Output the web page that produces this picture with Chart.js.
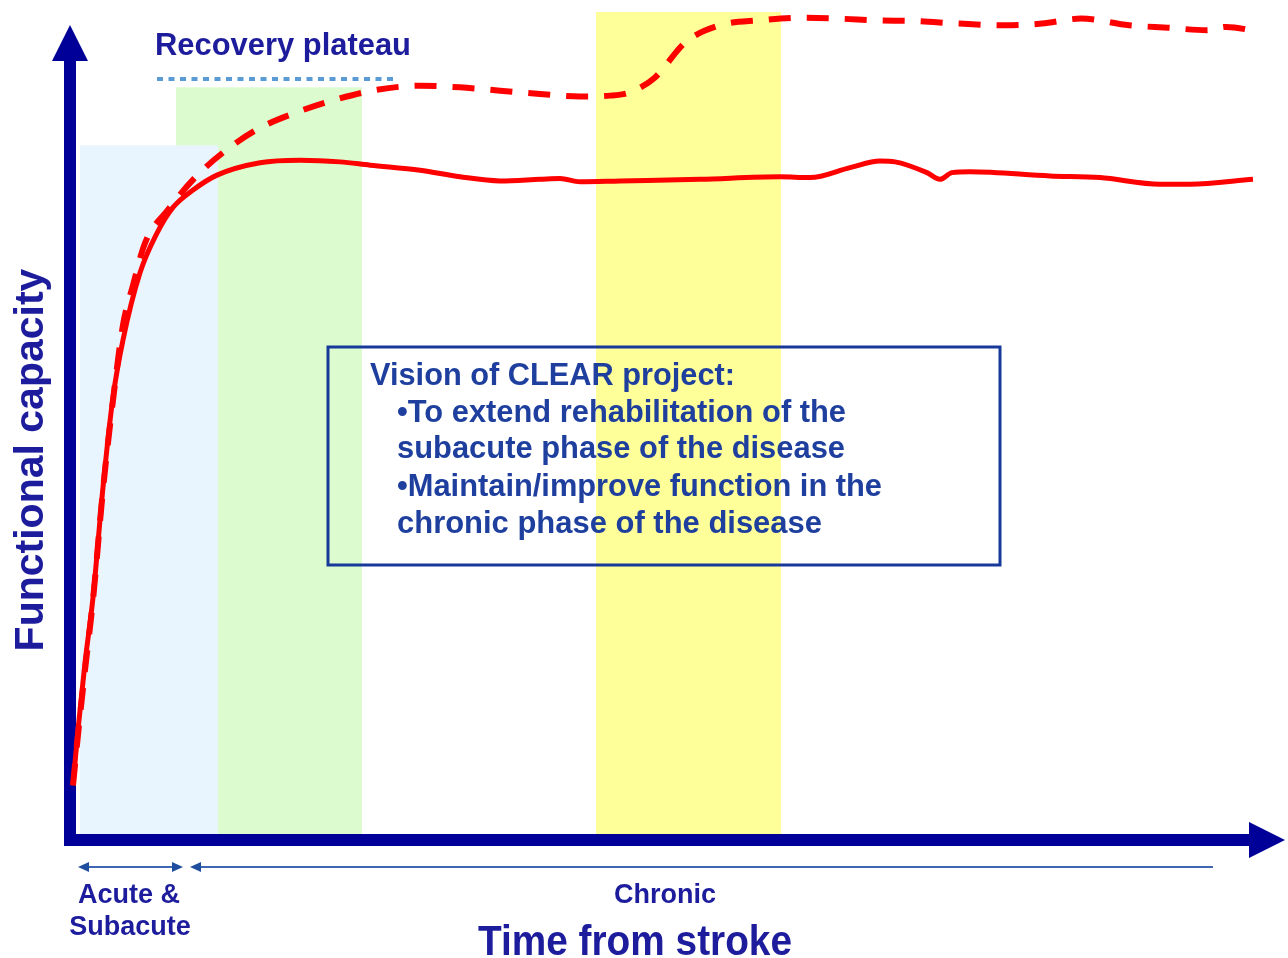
<!DOCTYPE html>
<html><head><meta charset="utf-8">
<script src="https://cdn.jsdelivr.net/npm/chart.js@4"></script>
<style>html,body{margin:0;padding:0;background:#fff;}canvas{display:block;}</style>
</head><body>
<canvas id="c" width="1288" height="958"></canvas>
<script>
// Usual recovery (solid curve)
const solidTime = [0.3,0.8,1.5,2.3,3.3,4.3,5.3,7.0,8.7,10.3,12.3,14.7,19.0,23.0,27.0,30.0,35.0,39.0,43.0,47.0,49.0,51.0,55.0,63.0,71.0,74.0,78.0,81.0,82.5,85.7,87.0,88.2,90.0,98.0,103.0,109.0,112.0,118.3];
const solidCapacity = [6.6,13.3,21.4,29.3,42.6,53.5,60.4,68.5,73.3,76.4,78.5,80.3,81.8,82.1,81.9,81.5,80.9,80.1,79.6,79.8,79.9,79.5,79.6,79.8,80.1,80.0,81.2,82.0,81.9,80.6,79.8,80.6,80.7,80.2,80.0,79.2,79.2,79.8];
// Extended / improved recovery (dashed curve)
const dashedTime = [0.3,0.8,1.5,2.3,3.3,4.3,5.3,6.3,7.5,9.8,12.5,15.6,19.0,22.7,26.8,30.7,35.0,39.0,43.0,47.0,51.0,54.0,56.0,58.5,61.5,65.0,69.0,73.0,76.8,80.7,84.6,88.9,93.3,97.2,101.1,105.9,109.8,113.7,115.6,119.0];
const dashedCapacity = [6.6,12.7,20.5,29.0,42.3,53.1,62.2,67.0,72.1,76.1,80.0,83.3,86.0,87.9,89.5,90.6,91.1,90.9,90.5,90.1,89.8,89.9,90.3,92.1,96.3,98.4,99.0,99.3,99.2,99.0,98.9,98.6,98.4,98.6,99.2,98.4,98.1,97.8,98.2,97.6];
// Phase bands: subacute-extension (green), acute & subacute (blue), chronic intervention (yellow)
const bandStart = [10.6, 1.0, 52.6];
const bandEnd   = [29.2, 14.8, 71.1];
const bandTop   = [90.9, 83.9, 100];
// Recovery plateau marker
const plateauRange = [8.7, 32.8];
const plateauLevel = [91.9];
// Phase ranges under the time axis
const acuteRange = [0.8, 11.3];
const chronicRange = [12.0, 114.3];
const phaseLabels = ['Acute &', 'Subacute', 'Chronic'];
const axisTitles = ['Functional capacity', 'Time from stroke'];
const boxLines = ['Vision of CLEAR project:', '\u2022To extend rehabilitation of the', 'subacute phase of the disease', '\u2022Maintain/improve function in the', 'chronic phase of the disease'];

const toPts = (xs, ys) => xs.map((x, i) => ({x, y: ys[i]}));
const FONT = '"Liberation Sans", Arial, sans-serif';

function arrowHead(ctx, tipX, tipY, dx, dy, len, half) {
  const bx = tipX - dx * len, by = tipY - dy * len;
  ctx.beginPath();
  ctx.moveTo(tipX, tipY);
  ctx.lineTo(bx - dy * half, by + dx * half);
  ctx.lineTo(bx + dy * half, by - dx * half);
  ctx.closePath();
  ctx.fill();
}

const decor = {
  id: 'decor',
  beforeDatasetsDraw(chart) {
    const {ctx, chartArea: ca, scales: {x, y}} = chart;
    ctx.save();
    const bandColors = ['#DCFCD0', '#E9F5FE', '#FFFF99'];
    for (let i = 0; i < bandStart.length; i++) {
      const x0 = x.getPixelForValue(bandStart[i]);
      const x1 = x.getPixelForValue(bandEnd[i]);
      const y0 = y.getPixelForValue(bandTop[i]);
      const y1 = y.getPixelForValue(0);
      ctx.fillStyle = bandColors[i];
      ctx.fillRect(x0, y0, x1 - x0, y1 - y0);
    }
    const L = ca.left, B = ca.bottom;
    ctx.strokeStyle = '#000099';
    ctx.fillStyle = '#000099';
    ctx.lineWidth = 12;
    ctx.lineJoin = 'miter';
    ctx.lineCap = 'butt';
    ctx.beginPath();
    ctx.moveTo(L, ca.top + 46);
    ctx.lineTo(L, B);
    ctx.lineTo(ca.right - 8, B);
    ctx.stroke();
    arrowHead(ctx, L, ca.top + 13, 0, -1, 36, 18);
    arrowHead(ctx, ca.right + 25, B, 1, 0, 36, 18);
    ctx.restore();
  },
  afterDatasetsDraw(chart) {
    const {ctx, chartArea: ca, scales: {x, y}} = chart;
    ctx.save();
    ctx.strokeStyle = '#5B9BD5';
    ctx.lineWidth = 4;
    ctx.setLineDash([6, 5.5]);
    const py = y.getPixelForValue(plateauLevel[0]);
    ctx.beginPath();
    ctx.moveTo(x.getPixelForValue(plateauRange[0]), py);
    ctx.lineTo(x.getPixelForValue(plateauRange[1]), py);
    ctx.stroke();
    ctx.setLineDash([]);

    const labelColor = '#1C1C9C';
    ctx.fillStyle = labelColor;
    ctx.textAlign = 'left';
    ctx.textBaseline = 'alphabetic';
    ctx.font = 'bold 31px ' + FONT;
    ctx.fillText('Recovery plateau', 155, 55, 256);

    ctx.save();
    ctx.translate(43, 460);
    ctx.rotate(-Math.PI / 2);
    ctx.textAlign = 'center';
    ctx.font = 'bold 41px ' + FONT;
    ctx.fillText(axisTitles[0], 0, 0, 384);
    ctx.restore();

    const ay = ca.bottom + 27;
    ctx.strokeStyle = '#3F66B0';
    ctx.fillStyle = '#1F4E9F';
    ctx.lineWidth = 2;
    const a0 = x.getPixelForValue(acuteRange[0]), a1 = x.getPixelForValue(acuteRange[1]);
    ctx.beginPath(); ctx.moveTo(a0 + 6, ay); ctx.lineTo(a1 - 6, ay); ctx.stroke();
    arrowHead(ctx, a0, ay, -1, 0, 11, 5);
    arrowHead(ctx, a1, ay, 1, 0, 11, 5);
    const c0 = x.getPixelForValue(chronicRange[0]), c1 = x.getPixelForValue(chronicRange[1]);
    ctx.beginPath(); ctx.moveTo(c0 + 6, ay); ctx.lineTo(c1, ay); ctx.stroke();
    arrowHead(ctx, c0, ay, -1, 0, 11, 5);

    ctx.fillStyle = labelColor;
    ctx.textAlign = 'center';
    ctx.font = 'bold 27px ' + FONT;
    ctx.fillText(phaseLabels[0], 129, 903, 102);
    ctx.fillText(phaseLabels[1], 130, 935, 125);
    ctx.fillText(phaseLabels[2], 665, 903, 105);
    ctx.font = 'bold 42px ' + FONT;
    ctx.fillText(axisTitles[1], 635, 955, 314);

    ctx.strokeStyle = '#17399A';
    ctx.lineWidth = 3;
    ctx.strokeRect(328, 347, 672, 218);
    ctx.fillStyle = '#1E3F9E';
    ctx.textAlign = 'left';
    ctx.font = 'bold 31px ' + FONT;
    const bx = [370, 397, 397, 397, 397];
    const by = [385, 422, 458, 496, 533];
    const bw = [365, 449, 448, 485, 425];
    boxLines.forEach((t, i) => ctx.fillText(t, bx[i], by[i], bw[i]));
    ctx.restore();
  }
};

new Chart(document.getElementById('c'), {
  type: 'line',
  data: {
    datasets: [
      { data: toPts(solidTime, solidCapacity), borderColor: '#FF0000', borderWidth: 5, pointRadius: 0, cubicInterpolationMode: 'monotone', fill: false },
      { data: toPts(dashedTime, dashedCapacity), borderColor: '#FF0000', borderWidth: 6, borderDash: [22, 16], pointRadius: 0, cubicInterpolationMode: 'monotone', fill: false }
    ]
  },
  options: {
    responsive: false,
    animation: false,
    devicePixelRatio: 1,
    layout: { padding: { left: 70, right: 28, top: 12, bottom: 118 } },
    plugins: { legend: { display: false }, tooltip: { enabled: false } },
    scales: {
      x: { type: 'linear', min: 0, max: 119, display: false },
      y: { min: 0, max: 100, display: false }
    }
  },
  plugins: [decor]
});
</script>
</body></html>
